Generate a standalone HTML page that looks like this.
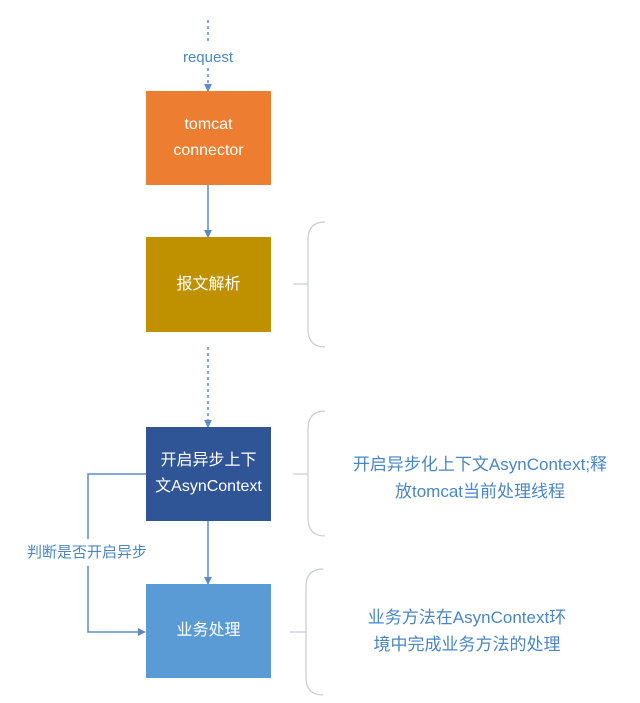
<!DOCTYPE html>
<html><head><meta charset="utf-8"><style>
body{margin:0;background:#fff;width:640px;height:703px;overflow:hidden;position:relative;font-family:"Liberation Sans","Noto Sans CJK SC",sans-serif}
.b{position:absolute;left:146px;width:125px;color:#fff;display:flex;align-items:center;justify-content:center;text-align:center;font-size:16px;line-height:26px}
.t{position:absolute;color:#4a86c5;font-size:17px;line-height:27px;text-align:center}
</style></head><body>
<svg width="640" height="703" style="position:absolute;left:0;top:0">
<defs><marker id="a" markerWidth="8" markerHeight="8" refX="4" refY="4" orient="auto" markerUnits="userSpaceOnUse"><path d="M0,0 L8,4 L0,8 z" fill="#5b8cc8"/></marker></defs>
<g stroke="#5b8cc8" stroke-width="1.5" fill="none">
<line x1="208" y1="20" x2="208" y2="43" stroke-dasharray="3,3"/>
<line x1="208" y1="68" x2="208" y2="88" stroke-dasharray="3,3" marker-end="url(#a)"/>
<line x1="208" y1="185" x2="208" y2="234" marker-end="url(#a)"/>
<line x1="208" y1="347" x2="208" y2="424" stroke-dasharray="3,3" marker-end="url(#a)"/>
<line x1="208" y1="521" x2="208" y2="581" marker-end="url(#a)"/>
<polyline points="146,474 88,474 88,632 142,632" marker-end="url(#a)"/>
</g>
<g stroke="#c8ccd4" stroke-width="1.2" fill="none">
<line x1="293" y1="284" x2="308" y2="284"/>
<path d="M325,222 Q308,222 308,240 L308,329 Q308,347 325,347"/>
<line x1="293" y1="474" x2="308" y2="474"/>
<path d="M325,411 Q308,411 308,429 L308,518 Q308,536 325,536"/>
<line x1="290" y1="632" x2="306" y2="632"/>
<path d="M323,569 Q306,569 306,587 L306,677 Q306,695 323,695"/>
</g>
</svg>
<div class="t" style="left:168px;top:44px;width:80px;font-size:15px">request</div>
<div class="b" style="top:91px;height:94px;background:#ED7D31">tomcat<br>connector</div>
<div class="b" style="top:237px;height:95px;background:#BF9000">报文解析</div>
<div class="b" style="top:427px;height:94px;background:#2F5597">开启异步上下<br>文AsynContext</div>
<div class="b" style="top:584px;height:94px;background:#5B9BD5">业务处理</div>
<div class="t" style="left:12px;top:539px;width:150px;font-size:15px;background:#fff">判断是否开启异步</div>
<div class="t" style="left:330px;top:451px;width:300px">开启异步化上下文AsynContext;释<br>放tomcat当前处理线程</div>
<div class="t" style="left:330px;top:604px;width:274px">业务方法在AsynContext环<br>境中完成业务方法的处理</div>
</body></html>
